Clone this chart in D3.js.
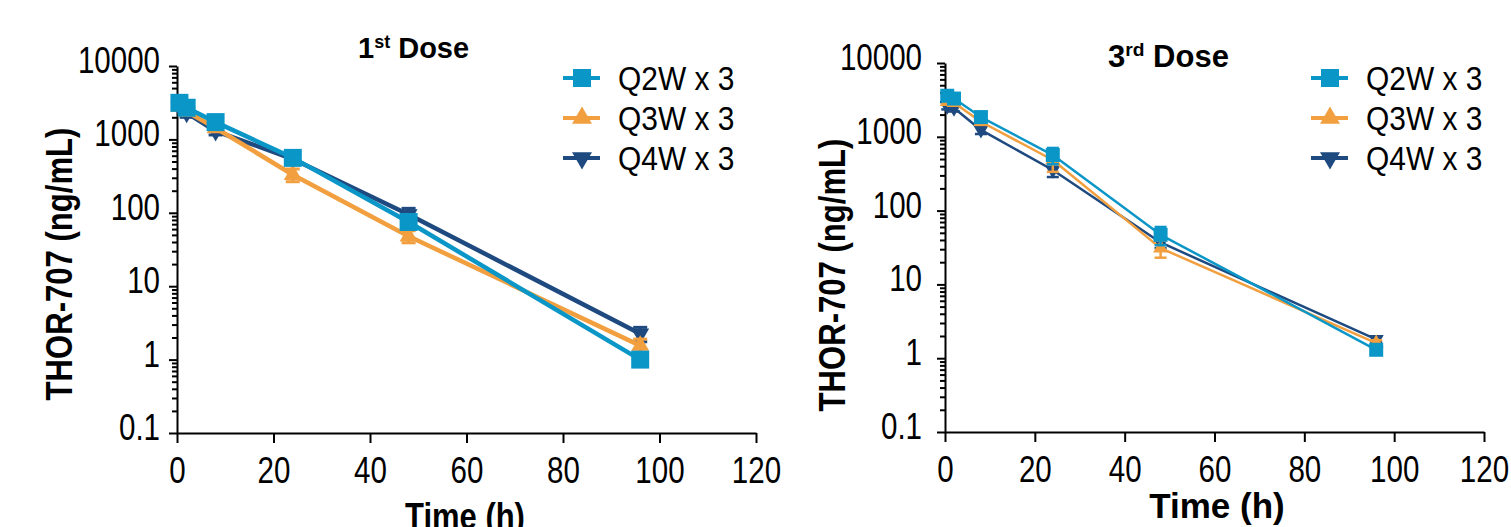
<!DOCTYPE html>
<html>
<head>
<meta charset="utf-8">
<script src="https://cdn.jsdelivr.net/npm/d3@7"></script>
<style>
  body { margin: 0; background: #fff; }
  svg text { fill: #000; }
</style>
</head>
<body>
<div id="chart"></div>
<script>
// 資料
const times = [0.5, 2, 8, 24, 48, 96]
const groupNames = ['Q2W x 3', 'Q3W x 3', 'Q4W x 3']
const groupColors = ['#0b96c8', '#f19f3f', '#1e4a80']
const groupSymbols = ['square', 'triangle', 'triangleDown']
const xTickValues = [0, 20, 40, 60, 80, 100, 120]
const yTickValues = [0.1, 1, 10, 100, 1000, 10000]

// 1st Dose：平均 / SD
const dose1Q2W = [3150, 2700, 1720, 560, 75, 1.0]
const dose1Q3W = [2800, 2400, 1430, 330, 48, 1.55]
const dose1Q4W = [2800, 2300, 1300, 540, 95, 2.25]
const dose1Q2WSd = [250, 250, 150, 50, 8, 0.1]
const dose1Q3WSd = [250, 250, 120, 65, 9, 0.35]
const dose1Q4WSd = [250, 300, 150, 50, 20, 0.5]

// 3rd Dose：平均 / SD
const dose3Q2W = [3600, 3300, 1850, 566, 47, 1.3]
const dose3Q3W = [3000, 2900, 1600, 485, 31, 1.6]
const dose3Q4W = [2600, 2450, 1240, 355, 37, 1.8]
const dose3Q2WSd = [250, 250, 150, 140, 13, 0.15]
const dose3Q3WSd = [250, 250, 150, 150, 8, 0.15]
const dose3Q4WSd = [250, 250, 150, 70, 6, 0.15]

const font = '"Liberation Sans", Arial, sans-serif'

const svg = d3.select('#chart')
  .append('svg')
  .attr('width', 1511)
  .attr('height', 527)

// 沒有 Narrow 字型，用 textLength 壓窄
function condense(sel, factor) {
  sel.each(function () {
    const w = this.getComputedTextLength()
    d3.select(this).attr('textLength', w * factor).attr('lengthAdjust', 'spacingAndGlyphs')
  })
}

function symbolPath(type, size) {
  if (type === 'square') return d3.symbol().type(d3.symbolSquare).size(size * size)()
  return d3.symbol().type(d3.symbolTriangle).size(size * size * Math.sqrt(3) / 4)()
}

function drawPanel(p) {
  const g = svg.append('g')

  const xScale = d3.scaleLinear().domain([0, 120]).range([p.x0, p.x1])
  const yScale = d3.scaleLog().domain([0.1, 10000]).range([p.y0, p.y1])

  // 次刻度 2..9
  const minor = []
  yTickValues.slice(0, -1).forEach(v => {
    for (let k = 2; k <= 9; k++) minor.push(v * k)
  })
  g.append('g')
    .attr('transform', `translate(${p.x0},0)`)
    .call(d3.axisLeft(yScale).tickValues(minor).tickSize(5).tickFormat('').tickSizeOuter(0))
    .call(a => a.select('.domain').remove())

  // y 軸
  g.append('g')
    .attr('class', 'axis')
    .attr('transform', `translate(${p.x0},0)`)
    .call(d3.axisLeft(yScale).tickValues(yTickValues).tickSize(8).tickPadding(p.yPad)
      .tickFormat(d => d).tickSizeOuter(0))
    .call(a => a.selectAll('text').attr('dy', '0.18em'))

  // x 軸
  g.append('g')
    .attr('class', 'axis')
    .attr('transform', `translate(0,${p.y0})`)
    .call(d3.axisBottom(xScale).tickValues(xTickValues).tickSize(10).tickPadding(14).tickSizeOuter(0))

  g.selectAll('.tick line').attr('stroke', '#000').attr('stroke-width', 2)
  g.selectAll('.domain').attr('stroke', '#000').attr('stroke-width', 2)
  const tickText = g.selectAll('.axis text')
    .style('font-family', font)
    .style('font-size', '36px')
    .attr('fill', '#000')
  condense(tickText, 0.82)

  // 折線 (Q4W 先畫，Q2W 在最上面)
  const order = [2, 1, 0]
  order.forEach(i => {
    const vals = p.series[i]
    const sds = p.sds[i]
    const color = groupColors[i]
    const pts = times.map((t, j) => ({ t, v: vals[j], sd: sds[j] }))

    const eb = g.append('g').attr('stroke', color).attr('stroke-width', p.ebWidth)
    pts.forEach(d => {
      const x = xScale(d.t)
      const yHi = yScale(d.v + d.sd)
      const yLo = yScale(Math.max(d.v - d.sd, 0.11))
      eb.append('line').attr('x1', x).attr('x2', x).attr('y1', yHi).attr('y2', yLo)
      eb.append('line').attr('x1', x - p.cap).attr('x2', x + p.cap).attr('y1', yHi).attr('y2', yHi)
      eb.append('line').attr('x1', x - p.cap).attr('x2', x + p.cap).attr('y1', yLo).attr('y2', yLo)
    })

    g.append('path')
      .datum(pts)
      .attr('fill', 'none')
      .attr('stroke', color)
      .attr('stroke-width', p.lineWidth)
      .attr('stroke-linejoin', 'round')
      .attr('d', d3.line().x(d => xScale(d.t)).y(d => yScale(d.v)))

    const type = groupSymbols[i]
    g.selectAll(null)
      .data(pts)
      .join('path')
      .attr('fill', color)
      .attr('d', symbolPath(type, type === 'square' ? p.sq : p.tri))
      .attr('transform', d => `translate(${xScale(d.t)},${yScale(d.v)})` + (type === 'triangleDown' ? ' rotate(180)' : ''))
  })

  // 圖例
  groupNames.forEach((name, i) => {
    const ly = p.legend.y + i * 40
    const type = groupSymbols[i]
    g.append('line')
      .attr('x1', p.legend.x).attr('x2', p.legend.x + 37)
      .attr('y1', ly).attr('y2', ly)
      .attr('stroke', groupColors[i]).attr('stroke-width', 4)
    g.append('path')
      .attr('fill', groupColors[i])
      .attr('d', symbolPath(type, type === 'square' ? 18 : 20))
      .attr('transform', `translate(${p.legend.x + 19},${ly})` + (type === 'triangleDown' ? ' rotate(180)' : ''))
    const t = g.append('text')
      .attr('x', p.legend.x + 55)
      .attr('y', ly + 12)
      .style('font-family', font)
      .style('font-size', '34px')
      .text(name)
    condense(t, 0.88)
  })

  // 標題
  const title = g.append('text')
    .attr('x', p.title.x).attr('y', p.title.y)
    .style('font-family', font)
    .style('font-weight', 'bold')
    .style('font-size', p.title.size + 'px')
  title.append('tspan').text(p.title.num)
  title.append('tspan')
    .attr('dy', -p.title.size * 0.35)
    .style('font-size', (p.title.size * 0.62) + 'px')
    .text(p.title.sup)
  title.append('tspan')
    .attr('dy', p.title.size * 0.35)
    .text(' Dose')

  // y 軸標題
  const yt = g.append('text')
    .attr('transform', `translate(${p.yTitle.x},${p.yTitle.y}) rotate(-90)`)
    .attr('text-anchor', 'middle')
    .style('font-family', font)
    .style('font-weight', 'bold')
    .style('font-size', '37px')
    .text('THOR-707 (ng/mL)')
  condense(yt, 0.84)

  // x 軸標題
  const xt = g.append('text')
    .attr('x', p.xTitle.x).attr('y', p.xTitle.y)
    .attr('text-anchor', 'middle')
    .style('font-family', font)
    .style('font-weight', 'bold')
    .style('font-size', p.xTitle.size + 'px')
    .text('Time (h)')
  if (p.xTitle.squeeze) condense(xt, p.xTitle.squeeze)
}

drawPanel({
  x0: 177, x1: 756, y0: 433, y1: 66, yPad: 9,
  series: [dose1Q2W, dose1Q3W, dose1Q4W],
  sds: [dose1Q2WSd, dose1Q3WSd, dose1Q4WSd],
  lineWidth: 4.5, ebWidth: 3, cap: 7, sq: 18, tri: 18,
  legend: { x: 563, y: 78 },
  title: { x: 358, y: 58, size: 29, num: '1', sup: 'st' },
  yTitle: { x: 72, y: 264 },
  xTitle: { x: 465, y: 529, size: 36, squeeze: 0.86 }
})

drawPanel({
  x0: 945, x1: 1484, y0: 432, y1: 63, yPad: 15,
  series: [dose3Q2W, dose3Q3W, dose3Q4W],
  sds: [dose3Q2WSd, dose3Q3WSd, dose3Q4WSd],
  lineWidth: 2.5, ebWidth: 2.5, cap: 6, sq: 14, tri: 15,
  legend: { x: 1311, y: 78 },
  title: { x: 1108, y: 67, size: 31, num: '3', sup: 'rd' },
  yTitle: { x: 845, y: 275 },
  xTitle: { x: 1217, y: 518, size: 35 }
})
</script>
</body>
</html>
